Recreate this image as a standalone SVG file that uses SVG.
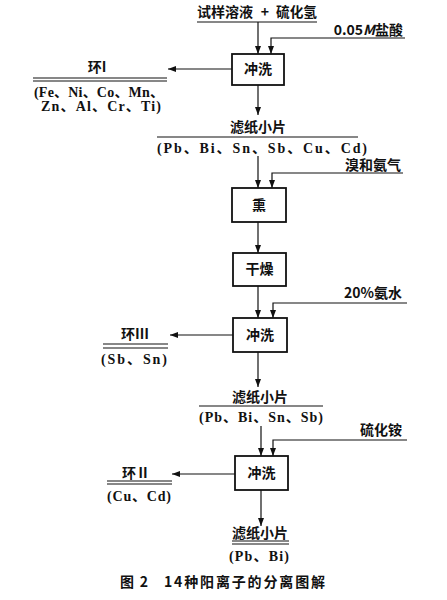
<svg xmlns="http://www.w3.org/2000/svg" width="447" height="600" viewBox="0 0 447 600">
<defs>
<marker id="ah" markerWidth="8" markerHeight="6" refX="8" refY="3" orient="auto" markerUnits="userSpaceOnUse">
<path d="M0,0 L8,3 L0,6 Z" fill="#111"/>
</marker>
<style>
.t{font-family:"Noto Sans CJK SC","Liberation Serif",serif;font-size:14px;font-weight:bold;fill:#111}
.s{font-family:"Liberation Serif","Noto Sans CJK SC",serif;font-size:14px;font-weight:bold;fill:#111}
.box{fill:#fff;stroke:#111;stroke-width:1.8}
.ln{fill:none;stroke:#111;stroke-width:1.2}
.ar{fill:none;stroke:#111;stroke-width:1.2;marker-end:url(#ah)}
</style>
</defs>
<rect width="447" height="600" fill="#fff"/>

<g id="connectors">
<path class="ar" d="M258,22 V54"/>
<path class="ar" d="M405,38 H271 V54"/>
<path class="ar" d="M232,69 H168"/>
<path class="ar" d="M258,85 V115"/>
<path class="ar" d="M258,156 V188"/>
<path class="ar" d="M403,173 H272 V188"/>
<path class="ar" d="M258,222 V253"/>
<path class="ar" d="M258,286 V318"/>
<path class="ar" d="M407,303 H273 V318"/>
<path class="ar" d="M233,335 H170"/>
<path class="ar" d="M258,352 V387"/>
<path class="ar" d="M261,426 V456"/>
<path class="ar" d="M407,440 H273 V456"/>
<path class="ar" d="M235,474 H172"/>
<path class="ar" d="M261,490 V526"/>
</g>

<g id="input">
<text class="t" x="197" y="17">试样溶液</text>
<text class="t" x="265" y="17" text-anchor="middle">+</text>
<text class="t" x="276" y="17" textLength="41" lengthAdjust="spacingAndGlyphs">硫化氢</text>
<line class="ln" x1="197" y1="22" x2="317" y2="22"/>
</g>

<g id="hcl">
<text class="t" x="403" y="35" text-anchor="end">0.05<tspan font-style="italic">M</tspan>盐酸</text>
</g>

<g id="wash1">
<rect class="box" x="232" y="54" width="52" height="31"/>
<text class="t" x="258" y="74" text-anchor="middle">冲洗</text>
</g>

<g id="ring1">
<text class="t" x="97" y="72" text-anchor="middle">环I</text>
<line class="ln" x1="33" y1="78" x2="167" y2="78"/>
<line class="ln" x1="33" y1="81" x2="167" y2="81"/>
<text class="s" x="34" y="97" textLength="130" lengthAdjust="spacing">(Fe、Ni、Co、Mn、</text>
<text class="s" x="41" y="111" textLength="120" lengthAdjust="spacing">Zn、Al、Cr、Ti)</text>
</g>

<g id="paper1">
<text class="t" x="258" y="132" text-anchor="middle">滤纸小片</text>
<line class="ln" x1="157" y1="137" x2="358" y2="137"/>
<text class="s" x="157" y="153" textLength="210" lengthAdjust="spacing">(Pb、Bi、Sn、Sb、Cu、Cd)</text>
</g>

<g id="br2nh3">
<text class="t" x="401" y="170" text-anchor="end">溴和氨气</text>
</g>

<g id="fume">
<rect class="box" x="232" y="188" width="54" height="34"/>
<text class="t" x="259" y="210" text-anchor="middle">熏</text>
</g>

<g id="dry">
<rect class="box" x="233" y="253" width="53" height="33"/>
<text class="t" x="259.5" y="274" text-anchor="middle">干燥</text>
</g>

<g id="ammonia">
<text class="t" x="402" y="298" text-anchor="end">20%氨水</text>
</g>

<g id="wash2">
<rect class="box" x="233" y="318" width="54" height="34"/>
<text class="t" x="260" y="340" text-anchor="middle">冲洗</text>
</g>

<g id="ring3">
<text class="t" x="135" y="339" text-anchor="middle">环Ⅲ</text>
<line class="ln" x1="103" y1="344" x2="168" y2="344"/>
<line class="ln" x1="103" y1="348" x2="168" y2="348"/>
<text class="s" x="101" y="364" textLength="66" lengthAdjust="spacing">(Sb、Sn)</text>
</g>

<g id="paper2">
<text class="t" x="260" y="402" text-anchor="middle">滤纸小片</text>
<line class="ln" x1="199" y1="406" x2="323" y2="406"/>
<text class="s" x="199" y="422" textLength="124" lengthAdjust="spacing">(Pb、Bi、Sn、Sb)</text>
</g>

<g id="ammsulf">
<text class="t" x="402" y="435" text-anchor="end">硫化铵</text>
</g>

<g id="wash3">
<rect class="box" x="235" y="456" width="53" height="34"/>
<text class="t" x="261.5" y="478" text-anchor="middle">冲洗</text>
</g>

<g id="ring2">
<text class="t" x="136" y="478" text-anchor="middle">环Ⅱ</text>
<line class="ln" x1="107" y1="481" x2="172" y2="481"/>
<line class="ln" x1="107" y1="484" x2="172" y2="484"/>
<text class="s" x="107" y="501" textLength="64" lengthAdjust="spacing">(Cu、Cd)</text>
</g>

<g id="paper3">
<text class="t" x="260" y="538" text-anchor="middle">滤纸小片</text>
<line class="ln" x1="232" y1="541" x2="289" y2="541"/>
<line class="ln" x1="232" y1="544" x2="289" y2="544"/>
<text class="s" x="229" y="561" textLength="60" lengthAdjust="spacing">(Pb、Bi)</text>
</g>

<g id="caption">
<text class="t" x="120" y="587" textLength="28" lengthAdjust="spacing">图 2</text>
<text class="t" x="164" y="587" textLength="161" lengthAdjust="spacing">14种阳离子的分离图解</text>
</g>
</svg>
